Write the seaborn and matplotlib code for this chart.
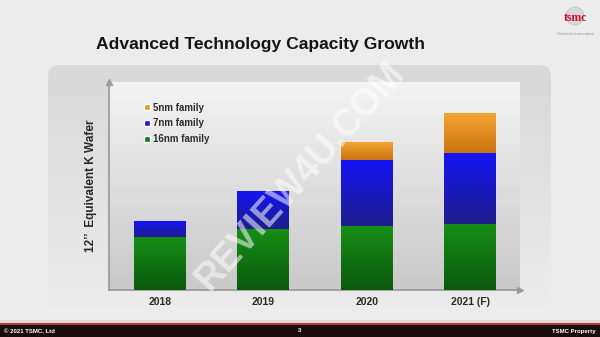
import numpy as np
import pandas as pd
import matplotlib
matplotlib.use("Agg")
import matplotlib.pyplot as plt
from matplotlib.patches import FancyBboxPatch, Patch, Rectangle, Circle
from matplotlib.colors import to_rgb
import seaborn as sns

# ---- data (arbitrary units) ----
years = ["2018", "2019", "2020", "2021 (F)"]
nm16 = [53, 61, 64, 66]
nm7 = [16, 38, 66, 71]
nm5 = [0, 0, 18, 40]
series_labels = ["5nm family", "7nm family", "16nm family"]

sns.set_theme(style="white")
plt.rcParams["font.family"] = ["Liberation Sans", "DejaVu Sans"]

W, H = 600, 337
fig = plt.figure(figsize=(6.0, 3.37), dpi=100)
fig.patch.set_facecolor("#ececec")

# background / decoration axes in pixel coordinates
bg = fig.add_axes([0, 0, 1, 1], zorder=-5)
bg.set_xlim(0, W)
bg.set_ylim(H, 0)
bg.axis("off")

def vgrad(top, bottom, n=64):
    t = np.linspace(0, 1, n)[:, None]
    a = np.array(to_rgb(top))
    b = np.array(to_rgb(bottom))
    return (a * (1 - t) + b * t)[:, None, :]

# rounded frame
frame = FancyBboxPatch((48, 65), 503, 245, boxstyle="round,pad=0,rounding_size=12",
                       facecolor="none", edgecolor="none", transform=bg.transData)
bg.add_patch(frame)
im = bg.imshow(vgrad("#d8d8d8", "#ececec"), extent=(48, 551, 310, 65), aspect="auto", zorder=1)
im.set_clip_path(frame)

# footer
bg.add_patch(Rectangle((0, 320), W, 4, facecolor="#e4d6d6", edgecolor="none", zorder=2))
bg.add_patch(Rectangle((0, 323), W, 2, facecolor="#a84040", edgecolor="none", zorder=3))
bg.add_patch(Rectangle((0, 325), W, 12, facecolor="#1a0c0c", edgecolor="none", zorder=3))
bg.text(4, 331, "© 2021 TSMC, Ltd", color="white", fontsize=4.3, fontweight="bold", va="center", ha="left", zorder=4)
bg.text(300, 331, "3", color="white", fontsize=4.3, fontweight="bold", va="center", ha="center", zorder=4)
bg.text(596, 331, "TSMC Property", color="white", fontsize=4.3, fontweight="bold", va="center", ha="right", zorder=4)

# logo
bg.add_patch(Circle((575, 16), 9, facecolor="#d8d8d8", edgecolor="#c0c0c0", lw=0.5, zorder=2))
bg.text(575, 18, "tsmc", color="#c8102e", fontsize=8.5, fontweight="bold",
        family=["Liberation Serif", "DejaVu Serif"], ha="center", va="center", zorder=3)
bg.text(576, 34, "Unleash Innovation", color="#999999", fontsize=3.2, ha="center", va="center", zorder=3)

# title
fig.text(261 / W, 1 - 49 / H, "Advanced Technology Capacity Growth", fontsize=12.6,
         fontweight="bold", color="#151515", ha="center", va="baseline")

# ---- main chart ----
ax = fig.add_axes([109 / W, 1 - 290 / H, 411 / W, 208 / H])
ax.set_facecolor("none")

df = pd.DataFrame({"year": years, "nm16": nm16, "nm7": nm7, "nm5": nm5})
df["top7"] = df["nm16"] + df["nm7"]
df["top5"] = df["top7"] + df["nm5"]

colors_flat = {"5": "#e8901a", "7": "#1a1ae0", "16": "#127a12"}
for col, c in [("top5", colors_flat["5"]), ("top7", colors_flat["7"]), ("nm16", colors_flat["16"])]:
    sns.barplot(data=df, x="year", y=col, color=c, width=0.5, ax=ax, saturation=1,
                linewidth=0, edgecolor="none")

n = len(years)
layers = [ax.patches[i * n:(i + 1) * n] for i in range(3)]
grads = [("#f2a432", "#cc7410"), ("#1414f4", "#1e1e8c"), ("#168e16", "#0b580d")]
for li, (layer, (ct, cb)) in enumerate(zip(layers, grads)):
    for j, p in enumerate(layer):
        p.set_linewidth(0)
        top = p.get_height()
        bottom = layers[li + 1][j].get_height() if li < 2 else 0
        if top - bottom <= 0:
            p.set_visible(False)
            continue
        x0 = p.get_x()
        ax.imshow(vgrad(ct, cb), extent=(x0, x0 + p.get_width(), bottom, top),
                  aspect="auto", zorder=3, origin="upper")

# panel gradient
ax.imshow(vgrad("#f3f3f3", "#c9c9c9"), extent=(-0.49, 3.48, 0, 208), aspect="auto", zorder=0)
ax.set_xlim(-0.49, 3.48)
ax.set_ylim(0, 208)

for s in ["top", "right"]:
    ax.spines[s].set_visible(False)
for s in ["left", "bottom"]:
    ax.spines[s].set_color("#9c9c9c")
    ax.spines[s].set_linewidth(1.3)
ax.plot(1, 0, ">", transform=ax.transAxes, color="#9c9c9c", ms=4, clip_on=False)
ax.plot(0, 1, "^", transform=ax.transAxes, color="#9c9c9c", ms=4, clip_on=False)

ax.set_yticks([])
ax.tick_params(axis="x", length=0, pad=5)
for lab in ax.get_xticklabels():
    lab.set_fontsize(7.5)
    lab.set_fontweight("bold")
    lab.set_color("#2a2a2a")
ax.set_xlabel("")
ax.set_ylabel("12’’  Equivalent K Wafer", fontsize=8.5, fontweight="bold", color="#2a2a2a")
ax.yaxis.set_label_coords(-0.029, 0.5)

handles = [Patch(facecolor="#e8961e"), Patch(facecolor="#1a1ad8"), Patch(facecolor="#127a12")]
leg = ax.legend(handles, series_labels, loc="upper left", bbox_to_anchor=(0.075, 0.92),
                frameon=False, fontsize=7, handlelength=0.6, handleheight=0.6,
                handletextpad=0.4, labelspacing=0.6, borderaxespad=0)
for t in leg.get_texts():
    t.set_color("#2e2e2e")
    t.set_fontweight("bold")

# watermark
fig.text(300 / W, 1 - 176 / H, "REVIEW4U.COM", fontsize=27, fontweight="bold",
         color="white", alpha=0.55, rotation=48, ha="center", va="center", zorder=10)

fig.savefig("out.png", dpi=100, facecolor=fig.get_facecolor())
